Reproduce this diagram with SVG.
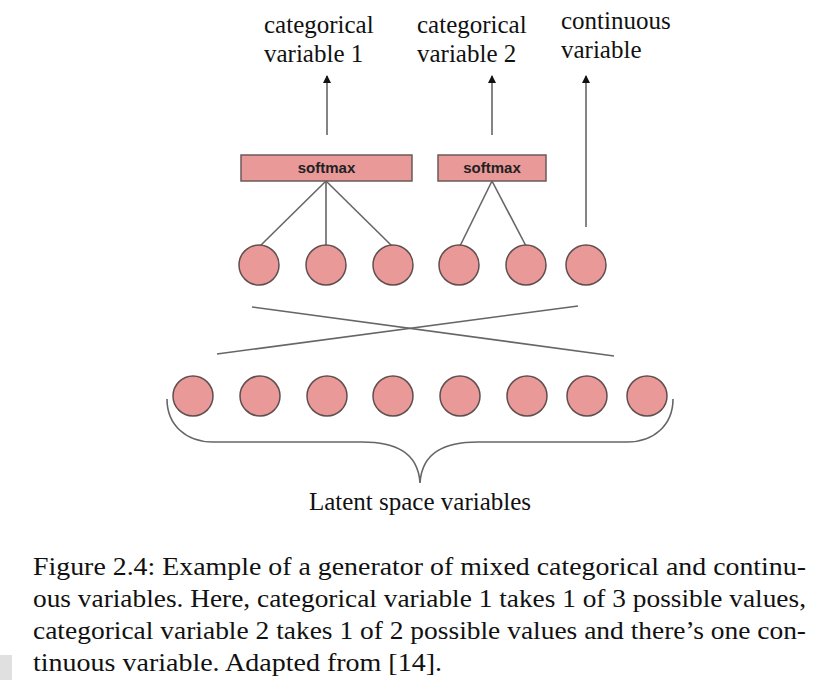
<svg xmlns="http://www.w3.org/2000/svg" width="829" height="680" viewBox="0 0 829 680">
<style>
.lbl{font-family:"Liberation Serif","Times New Roman",serif;font-size:25px;fill:#111}
.cap{font-family:"Liberation Serif","Times New Roman",serif;font-size:26px;fill:#111}
.sm{font-family:"Liberation Sans",Arial,sans-serif;font-size:15px;font-weight:bold;fill:#222;text-anchor:middle}
.node{fill:#ea9999;stroke:#5f4f4f;stroke-width:1.5}
.box{fill:#ea9999;stroke:#6a5a5a;stroke-width:1.5}
.ln{stroke:#666;stroke-width:1.6;fill:none}
</style>
<defs>
<marker id="ah" viewBox="0 0 8 10" refX="7" refY="5" markerWidth="8" markerHeight="10" markerUnits="userSpaceOnUse" orient="auto">
<path d="M0,1 L8,5 L0,9 z" fill="#111"/>
</marker>
</defs>
<rect width="829" height="680" fill="#fff"/>

<g id="labels">
<text class="lbl" x="264" y="33">categorical</text>
<text class="lbl" x="264" y="62">variable 1</text>
<text class="lbl" x="417" y="33">categorical</text>
<text class="lbl" x="417" y="62">variable 2</text>
<text class="lbl" x="561" y="29">continuous</text>
<text class="lbl" x="561" y="58">variable</text>
</g>

<g id="connectors">
<line class="ln" x1="327" y1="135" x2="327" y2="76" marker-end="url(#ah)"/>
<line class="ln" x1="492" y1="135" x2="492" y2="76" marker-end="url(#ah)"/>
<line class="ln" x1="586" y1="227" x2="586" y2="76" marker-end="url(#ah)"/>
<line class="ln" x1="326" y1="181" x2="260" y2="246"/>
<line class="ln" x1="326" y1="181" x2="326" y2="245"/>
<line class="ln" x1="326" y1="181" x2="392" y2="246"/>
<line class="ln" x1="492" y1="181" x2="460" y2="246"/>
<line class="ln" x1="492" y1="181" x2="526" y2="246"/>
<line class="ln" x1="252" y1="307" x2="614" y2="356"/>
<line class="ln" x1="217" y1="354" x2="578" y2="306"/>
</g>

<g id="softmax1"><rect class="box" x="241" y="155" width="171" height="26"/><text class="sm" x="326.5" y="173">softmax</text></g>
<g id="softmax2"><rect class="box" x="438" y="155" width="108" height="26"/><text class="sm" x="492" y="173">softmax</text></g>

<g id="out1"><circle class="node" cx="259" cy="265" r="20"/></g>
<g id="out2"><circle class="node" cx="326" cy="265" r="20"/></g>
<g id="out3"><circle class="node" cx="393" cy="265" r="20"/></g>
<g id="out4"><circle class="node" cx="459" cy="265" r="20"/></g>
<g id="out5"><circle class="node" cx="526" cy="265" r="20"/></g>
<g id="out6"><circle class="node" cx="586" cy="265" r="20"/></g>

<g id="z1"><circle class="node" cx="193" cy="396" r="20"/></g>
<g id="z2"><circle class="node" cx="260" cy="396" r="20"/></g>
<g id="z3"><circle class="node" cx="327" cy="396" r="20"/></g>
<g id="z4"><circle class="node" cx="393" cy="396" r="20"/></g>
<g id="z5"><circle class="node" cx="460" cy="396" r="20"/></g>
<g id="z6"><circle class="node" cx="527" cy="396" r="20"/></g>
<g id="z7"><circle class="node" cx="587" cy="396" r="20"/></g>
<g id="z8"><circle class="node" cx="647" cy="396" r="20"/></g>

<g id="brace">
<path class="ln" d="M167,399 C167,425 186,442 213,442 L362,442 C395,442 418,452 420,483 C422,452 445,442 478,442 L627,442 C654,442 673,425 673,399"/>
<text class="lbl" x="420" y="510" text-anchor="middle">Latent space variables</text>
</g>

<g id="caption">
<text class="cap" x="33" y="575" textLength="773" lengthAdjust="spacingAndGlyphs">Figure 2.4: Example of a generator of mixed categorical and continu-</text>
<text class="cap" x="33" y="607" textLength="773" lengthAdjust="spacingAndGlyphs">ous variables. Here, categorical variable 1 takes 1 of 3 possible values,</text>
<text class="cap" x="33" y="639" textLength="773" lengthAdjust="spacingAndGlyphs">categorical variable 2 takes 1 of 2 possible values and there’s one con-</text>
<text class="cap" x="33" y="671" textLength="409" lengthAdjust="spacingAndGlyphs">tinuous variable. Adapted from [14].</text>
</g>
<rect x="0" y="655" width="12" height="25" fill="#e0e0e0"/>
</svg>
